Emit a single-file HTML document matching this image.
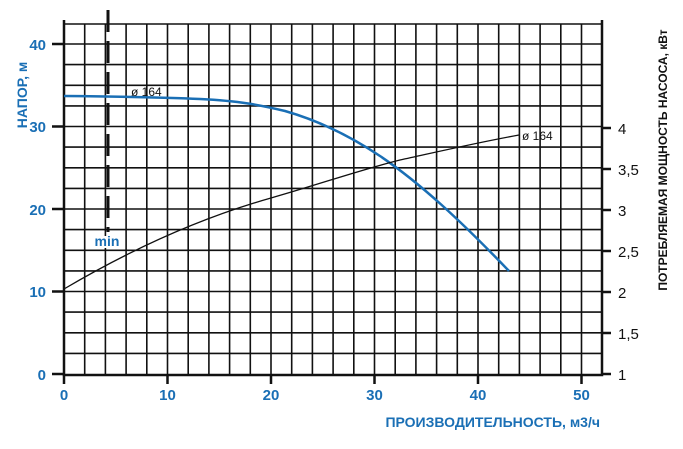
<!DOCTYPE html><html><head><style>body{margin:0;background:#fff}svg{display:block}</style></head><body>
<svg width="683" height="449" viewBox="0 0 683 449" xmlns="http://www.w3.org/2000/svg" font-family="Liberation Sans, sans-serif">
<g stroke="#111" stroke-width="1.6" fill="none">
<path d="M84.7 24V374M105.4 24V374M126.1 24V374M146.8 24V374M167.5 24V374M188.2 24V374M208.9 24V374M229.6 24V374M250.3 24V374M271 24V374M291.7 24V374M312.4 24V374M333.1 24V374M353.8 24V374M374.5 24V374M395.2 24V374M415.9 24V374M436.6 24V374M457.3 24V374M478 24V374M498.7 24V374M519.4 24V374M540.1 24V374M560.8 24V374M581.5 24V374"/>
<path d="M64 353.4H602M64 332.8H602M64 312.1H602M64 291.5H602M64 270.9H602M64 250.3H602M64 229.6H602M64 209H602M64 188.4H602M64 167.8H602M64 147.1H602M64 126.5H602M64 105.9H602M64 85.3H602M64 64.6H602M64 44H602M64 24H602"/>
</g>
<rect x="92" y="236" width="32" height="12" fill="#fff"/>
<g stroke="#111" stroke-width="2.5" fill="none">
<path d="M64 20V375H602V20"/>
<path d="M52 374H64M52 291.5H64M52 209H64M52 126.5H64M52 44H64"/>
<path d="M64 374V384M167.5 374V384M271 374V384M374.5 374V384M478 374V384M581.5 374V384"/>
<path d="M602 374H611M602 333H611M602 292H611M602 251H611M602 210H611M602 169H611M602 128H611"/>
<path d="M108 10V232" stroke-dasharray="22,9" stroke-width="3"/>
</g>
<path d="M64 96 C120 96.5 160 97 200 99 C240 101 260 105 285 111 C320 121 350 136 380 156 C420 183 460 220 509 271" stroke="#1a6fb5" stroke-width="2.5" fill="none"/>
<path d="M64 289 C130 250 200 218 271 198 C320 184 360 170 400 160 C450 149 480 142 519 135" stroke="#111" stroke-width="1.3" fill="none"/>
<g fill="#1a6fb5" font-weight="bold" font-size="15">
<text x="46" y="380" text-anchor="end">0</text><text x="46" y="297" text-anchor="end">10</text><text x="46" y="215" text-anchor="end">20</text><text x="46" y="132" text-anchor="end">30</text><text x="46" y="50" text-anchor="end">40</text>
<text x="64" y="400" text-anchor="middle">0</text><text x="167.5" y="400" text-anchor="middle">10</text><text x="271" y="400" text-anchor="middle">20</text><text x="374.5" y="400" text-anchor="middle">30</text><text x="478" y="400" text-anchor="middle">40</text><text x="581.5" y="400" text-anchor="middle">50</text>
<text x="600" y="427" text-anchor="end" font-size="14">ПРОИЗВОДИТЕЛЬНОСТЬ, м3/ч</text>
<text transform="translate(27,95) rotate(-90)" text-anchor="middle" font-size="14">НАПОР, м</text>
<text x="107" y="246" text-anchor="middle" font-size="14">min</text>
</g>
<g fill="#111" font-size="15">
<text x="618" y="380">1</text><text x="618" y="339">1,5</text><text x="618" y="298">2</text><text x="618" y="257">2,5</text><text x="618" y="216">3</text><text x="618" y="175">3,5</text><text x="618" y="134">4</text>
<text transform="translate(667,160) rotate(-90)" text-anchor="middle" font-size="12" font-weight="bold">ПОТРЕБЛЯЕМАЯ МОЩНОСТЬ НАСОСА, кВт</text>
<text x="131" y="96" font-size="12">ø 164</text>
<text x="522" y="140" font-size="12">ø 164</text>
</g>
</svg>
</body></html>
